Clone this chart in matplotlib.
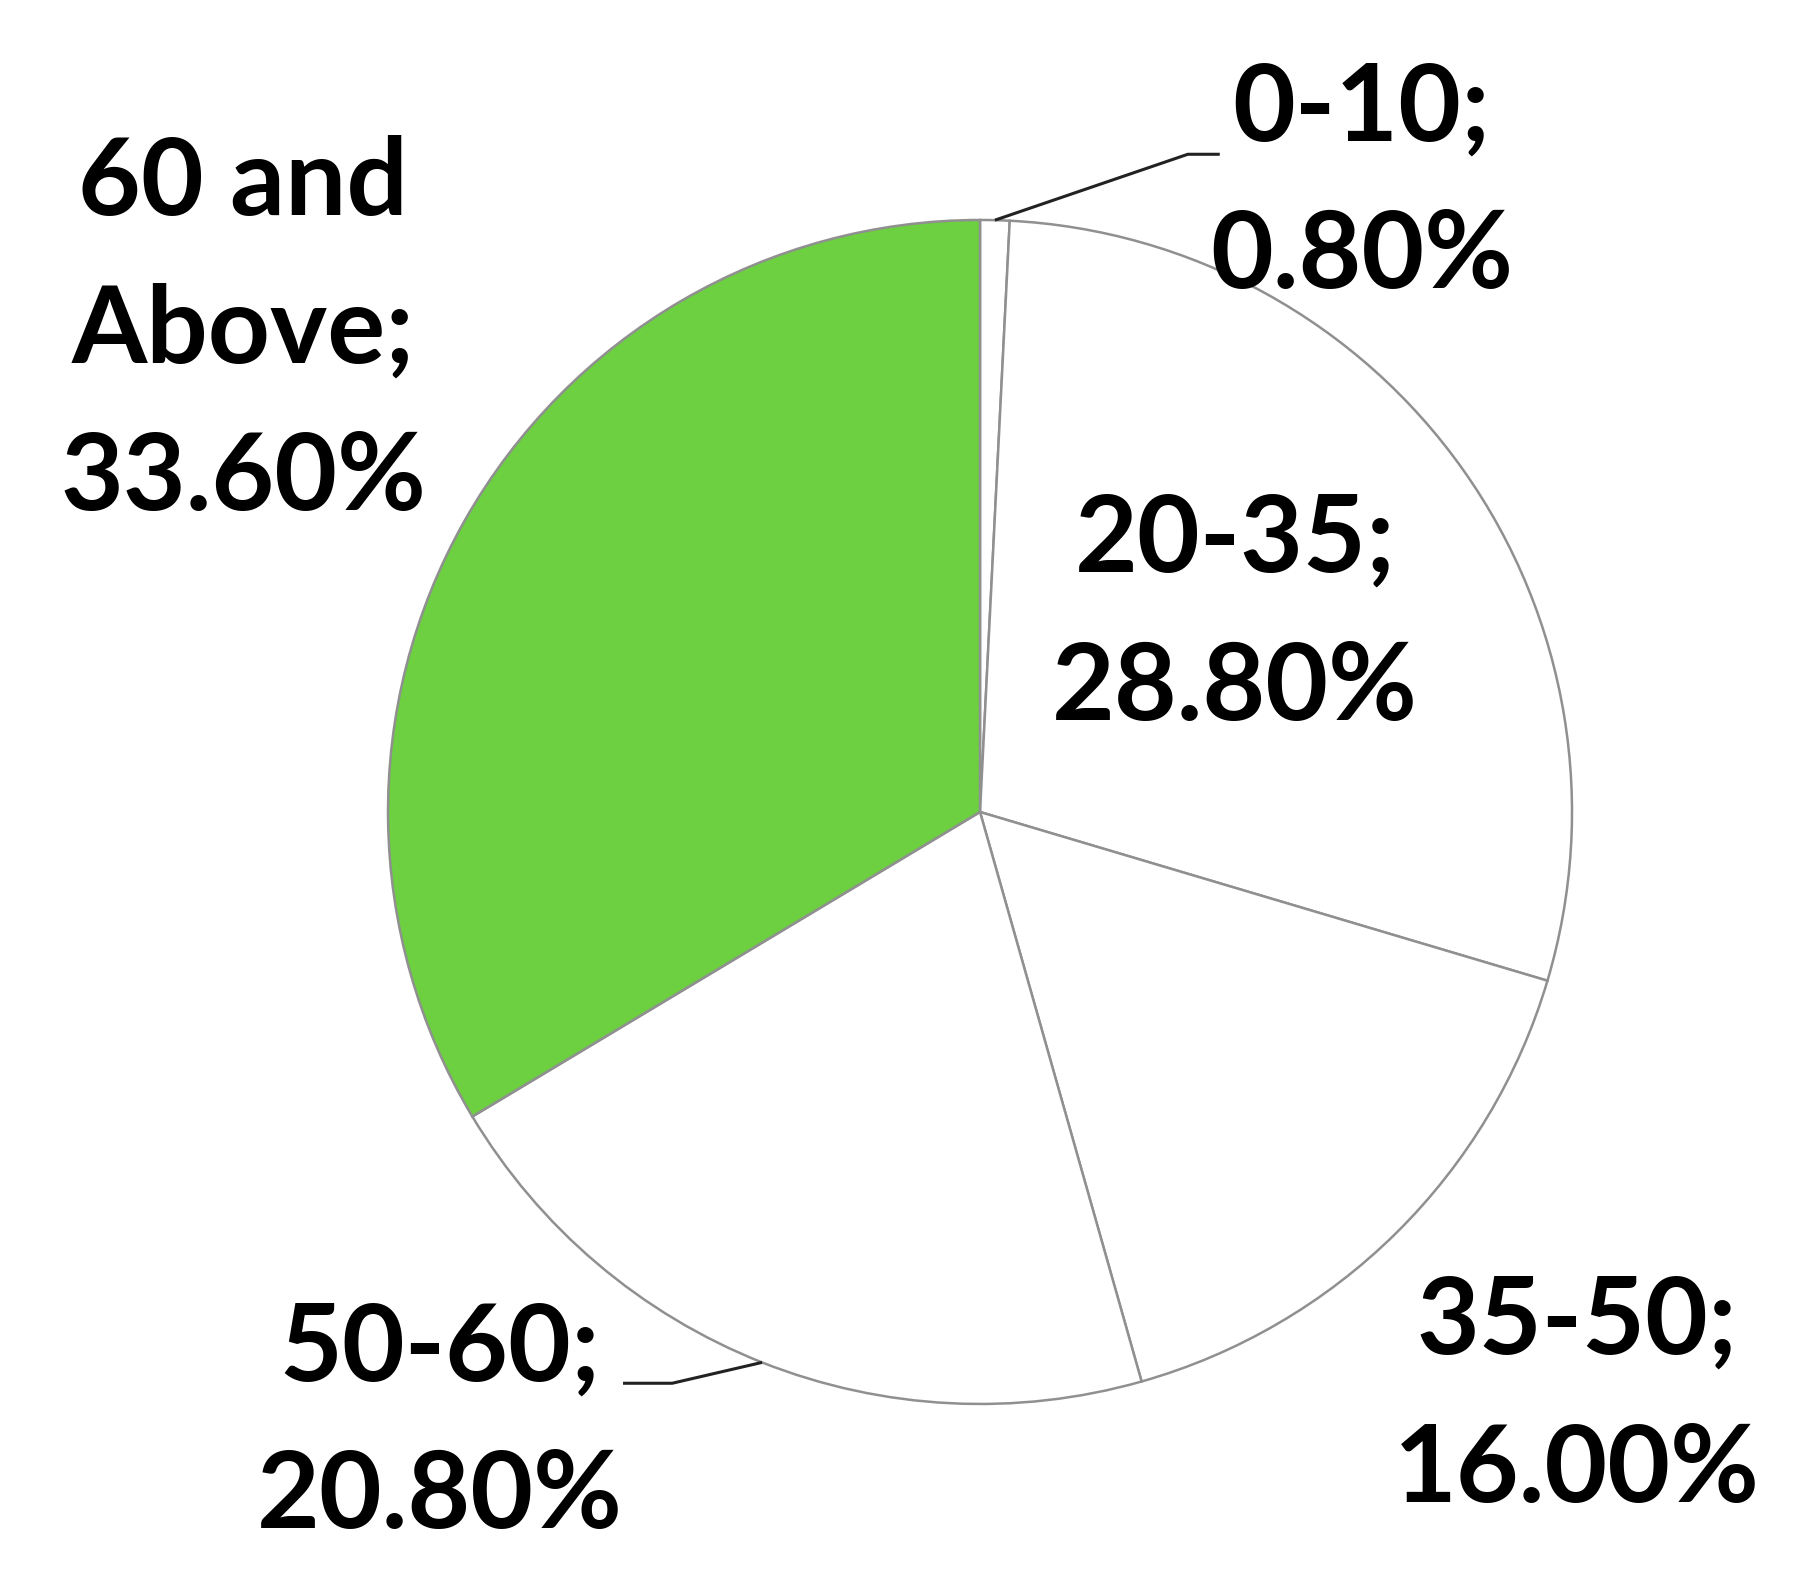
import matplotlib
matplotlib.use('Agg')
import matplotlib.pyplot as plt
import numpy as np

# age groups, share of respondents (%)
groups = ['0-10', '20-35', '35-50', '50-60', '60 and\nAbove']
shares = [0.8, 28.8, 16.0, 20.8, 33.6]
colors = ['white', 'white', 'white', 'white', '#6CD040']

# label anchor points (data units, pie radius = 1)
label_pos = [(0.645, 1.062), (0.431, 0.333), (1.008, -0.988),
             (-0.912, -1.032), (-1.245, 0.812)]

plt.rcParams['font.family'] = ['Lato', 'DejaVu Sans']

fig = plt.figure(figsize=(18.18, 15.93), dpi=100)
ax = fig.add_axes([0, 0, 1, 1])

wedges, _ = ax.pie(shares, colors=colors, startangle=90, counterclock=False,
                   radius=1.0, center=(0, 0),
                   wedgeprops=dict(edgecolor='#909090', linewidth=1.8))

ax.set_xlim(-1.6554, 1.4155)
ax.set_ylim(-1.3193, 1.3716)
ax.set_aspect('equal')
ax.axis('off')

for g, s, (x, y) in zip(groups, shares, label_pos):
    ax.text(x, y, f'{g};\n{s:.2f}%', ha='center', va='center',
            fontsize=78, fontweight='bold', linespacing=1.62, color='black')

# leader lines for the two outside labels
cum = np.cumsum([0] + shares)
def edge_point(i):
    mid = 90 - (cum[i] + shares[i] / 2) * 3.6
    return np.cos(np.radians(mid)), np.sin(np.radians(mid))

x0, y0 = edge_point(0)
ax.plot([x0, 0.351, 0.405], [y0, 1.111, 1.111], color='#222222', lw=2.2,
        solid_capstyle='butt')
x3, y3 = edge_point(3)
ax.plot([x3, -0.520, -0.603], [y3, -0.965, -0.965], color='#222222', lw=2.2,
        solid_capstyle='butt')

fig.savefig('out.png', dpi=100, facecolor='white')
